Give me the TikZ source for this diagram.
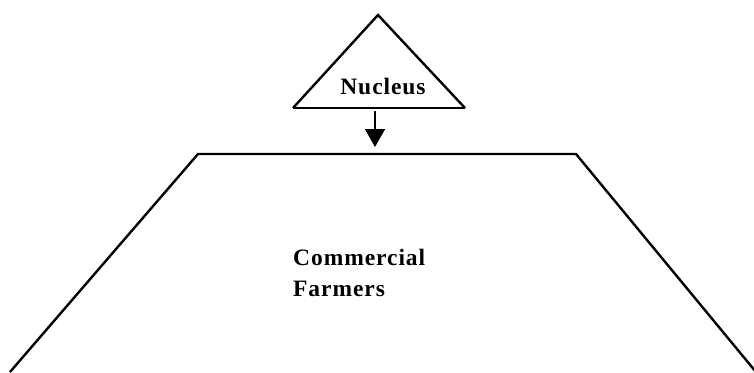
\documentclass[tikz,border=0pt]{standalone}
\usepackage{fontspec}
\setmainfont{Liberation Serif}
\usetikzlibrary{arrows.meta}

\tikzset{
  tierlabel/.style={font=\bfseries\fontsize{23.5}{28}\selectfont\addfontfeatures{LetterSpace=4}, inner sep=0pt}
}

\begin{document}
\begin{tikzpicture}[x=1pt, y=-1pt]
        \useasboundingbox (0,0) rectangle (754,372);

        \coordinate (apex) at (378,15);
        \coordinate (nl) at (293,108);
        \coordinate (nr) at (465,108);
        \coordinate (nb) at (375,111);
        \coordinate (ft) at (375,147);

        \begin{scope}[line width=2.4pt, line join=miter]
        \draw (nl) -- (apex) -- (nr);
        \draw (10,372) -- (198,154) -- (576,154) -- (756,372);
        \end{scope}
        \draw [line width=1.6pt] (nl) -- (nr);

        \draw [line width=1.6pt, -{Triangle[width=20pt, length=18pt]}] (nb) -- (ft);

        \node [tierlabel, anchor=base] (nuc) at (383,94) {Nucleus};
        \node [tierlabel, anchor=base west] (com) at (293,265) {Commercial};
        \node [tierlabel, anchor=base west] (frm) at (293,296) {Farmers};

        \end{tikzpicture}
\end{document}
